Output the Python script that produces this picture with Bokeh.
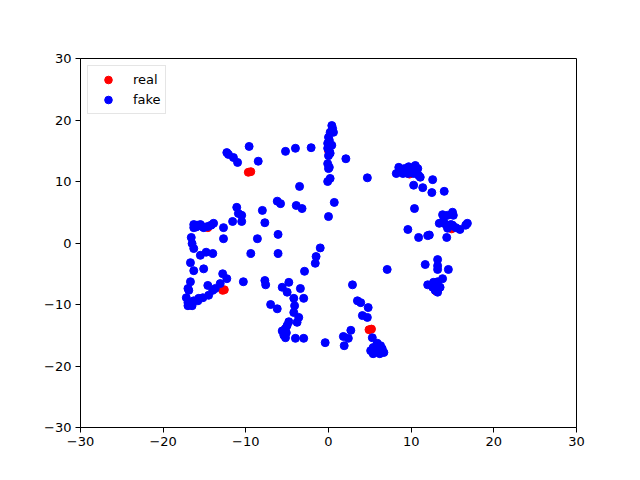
from bokeh.plotting import figure
from bokeh.models import Range1d, FixedTicker, Legend, LegendItem
from bokeh.embed import file_html
from bokeh.resources import INLINE

real_x = [-9.7, -9.4, -12.8, -12.6, 4.9, 5.2, 0.0, 9.8, 14.9, 13.0, -14.6, -5.4, 6.0]
real_y = [11.5, 11.6, -7.7, -7.6, -14.1, -14.0, 15.0, 11.2, 2.3, -7.8, 2.5, -14.2, -17.4]

fake_x = [
    0.4, 0.5, 0.2, 0.6, 0.0, 0.1, -0.1, 0.4, -0.1, 0.1, 0.2, 0.0, -0.1, 0.1, 0.0, 0.2, -0.1,
    -4.0, -2.1, 2.1, -3.5, -3.9, -3.2, 0.7, 0.0, 4.7,
    -9.6, -12.3, -12.1, -11.5, -11.0, -8.5, -5.2, -6.2, -5.8, -11.1, -10.9, -10.5, -11.6, -10.5,
    -8.0, -7.7, -6.1, -8.6, -12.7, -12.7, -1.0,
    -16.3, -15.9, -15.5, -15.1, -14.6, -14.2, -13.9, -16.3, -16.0, -15.3, -16.6, -16.5, -16.3,
    -15.5, -14.8, -14.0, -16.7, -16.3, -15.1, -9.4, -12.8, -12.3, -13.1, -16.7, -17.0, -17.2,
    -17.0, -16.3, -15.7, -15.2, -14.5, -14.0, -13.7, -10.3, -17.0, -16.5, -14.6, -16.9, -15.8,
    -6.1, -1.5, -1.6, -2.9, -7.7, -7.6, -5.6, -4.8, -5.0, -3.4, -3.0, -4.2, -4.1, -7.0, -6.2,
    -4.2, -3.6, -3.8, -4.8, -5.0, -5.2, -5.4, -5.4, -5.2, -4.0, -3.0, -0.4, -5.6, -5.1,
    7.1, 2.9, 3.5, 3.9, 4.8, 4.1, 4.7, 2.7, 1.8, 2.4, 1.9, 5.3, 5.9, 5.4, 5.1, 5.9, 6.5, 6.7,
    5.4, 6.2, 6.3, 5.7, 6.0,
    8.5, 8.2, 9.0, 9.2, 9.7, 10.2, 10.5, 10.8, 9.6, 10.3, 10.9, 11.1, 10.3, 11.4, 12.6, 12.5,
    14.0, 10.4, 9.6, 10.9, 12.0, 12.2, 9.9, 10.6,
    13.8, 14.4, 15.0, 15.1, 13.4, 14.2, 14.5, 15.0, 15.4, 15.9, 16.8, 16.6, 14.4, 14.3, 13.2,
    13.2, 13.2, 11.7, 14.5, 13.8, 13.2, 12.7, 12.0, 12.6, 12.9, 13.3, 13.5, 13.2, 13.9, 14.8,
]
fake_y = [
    19.1, 18.6, 18.0, 18.0, 17.2, 16.7, 16.2, 15.9, 15.4, 15.0, 14.6, 14.2, 12.9, 12.3, 12.1, 10.5, 10.0,
    15.4, 15.5, 13.7, 9.2, 6.1, 5.6, 6.6, 4.3, 10.6,
    15.7, 14.7, 14.4, 13.9, 13.1, 13.3, 14.9, 6.8, 6.4, 5.8, 4.8, 4.5, 3.5, 3.5,
    5.3, 3.3, 1.4, 0.7, 2.5, 0.7, -0.8,
    3.0, 2.9, 3.0, 2.5, 2.7, 2.9, 3.2, 2.5, 2.6, 2.7, 0.9, -0.1, -0.9,
    -2.0, -1.5, -1.7, -3.2, -4.5, -4.2, -1.7, -5.0, -5.8, -6.6, -6.3, -7.4, -8.9,
    -9.7, -9.4, -9.0, -8.9, -8.5, -7.7, -7.4, -6.3, -10.2, -10.2, -6.9, -7.7, -9.4,
    -1.7, -2.2, -3.3, -4.6, -6.1, -6.8, -7.2, -6.4, -8.0, -7.4, -9.0, -9.0, -10.2, -10.0, -10.7,
    -11.3, -12.1, -12.9, -12.8, -13.4, -13.9, -14.6, -15.0, -15.4, -15.5, -15.5, -16.2, -14.3, -14.6,
    -4.3, -6.8, -9.4, -9.7, -10.5, -11.8, -12.1, -14.2, -15.2, -15.5, -16.7, -15.4, -16.3, -17.0,
    -17.5, -17.5, -17.2, -17.8, -18.0, -18.0, -16.7, -17.7, -17.0,
    12.3, 11.3, 11.3, 12.1, 12.4, 12.1, 12.6, 12.1, 11.3, 11.3, 11.0, 10.7, 9.4, 9.0, 10.3, 8.2,
    8.4, 5.6, 2.2, 0.9, 1.2, 1.3, 11.8, 11.6,
    4.6, 4.5, 5.0, 4.5, 3.2, 3.0, 2.7, 2.9, 2.5, 2.2, 3.2, 2.9, 2.4, 0.9, -2.7,
    -3.7, -4.3, -3.5, -4.3, -5.8, -6.3, -6.4, -6.8, -7.2, -7.7, -7.4, -7.2, -8.0, 3.6, 3.0,
]

ticks = [-30, -20, -10, 0, 10, 20, 30]
tick_labels = {t: (str(t).replace("-", "\u2212")) for t in ticks}

p = figure(width=624, height=464, output_backend="svg", toolbar_location=None,
           x_range=Range1d(-30, 30), y_range=Range1d(-30, 30),
           min_border_left=80, min_border_right=48, min_border_top=58, min_border_bottom=37)
p.xgrid.visible = False
p.ygrid.visible = False
p.outline_line_color = "black"
p.outline_line_width = 1
p.outline_line_alpha = 1

for ax in (p.xaxis[0], p.yaxis[0]):
    ax.ticker = FixedTicker(ticks=ticks)
    ax.major_label_overrides = tick_labels
    ax.major_label_text_font = "DejaVu Sans"
    ax.major_label_text_font_size = "13px"
    ax.major_label_text_color = "black"
    ax.major_tick_out = 5
    ax.major_tick_in = 0
    ax.minor_tick_out = 0
    ax.minor_tick_in = 0
    ax.axis_line_color = "black"
    ax.major_tick_line_color = "black"
    ax.major_label_standoff = 4

r_real = p.scatter(real_x, real_y, size=8, color="red", line_color="red")
r_fake = p.scatter(fake_x, fake_y, size=8, color="blue", line_color="blue")

legend = Legend(items=[LegendItem(label="real", renderers=[r_real]),
                       LegendItem(label="fake", renderers=[r_fake])],
                location="top_left")
legend.margin = 7
legend.padding = 4
legend.spacing = 1
legend.label_standoff = 9
legend.glyph_width = 32
legend.glyph_height = 19
legend.label_height = 19
legend.label_text_font = "DejaVu Sans"
legend.label_text_font_size = "13px"
legend.label_text_color = "black"
legend.border_line_color = "#cccccc"
legend.border_line_width = 1
legend.background_fill_alpha = 0.8
p.add_layout(legend)

open("out.html", "w").write(file_html(p, INLINE))
